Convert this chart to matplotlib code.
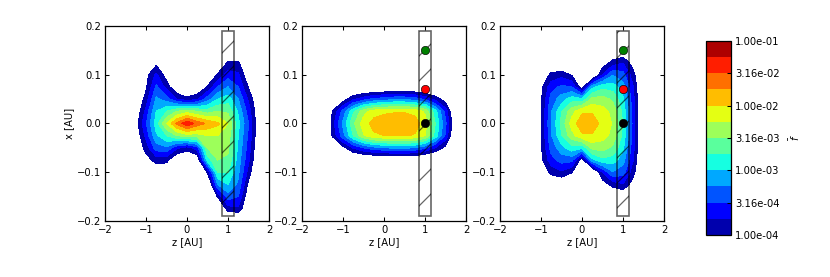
import numpy as np
import matplotlib
matplotlib.use("Agg")
import matplotlib.pyplot as plt
from matplotlib.patches import Rectangle

plt.rcParams['font.family'] = 'DejaVu Sans'
plt.rcParams['hatch.linewidth'] = 0.6

# grid nodes (AU)
z_nodes = [-1.5, -1.25, -1.0, -0.75, -0.5, -0.25, 0.0, 0.25, 0.5, 0.75, 1.0, 1.25, 1.5, 1.75]
x_nodes = [0.2, 0.175, 0.15, 0.125, 0.1, 0.075, 0.05, 0.025, 0.0,
           -0.025, -0.05, -0.075, -0.1, -0.125, -0.15, -0.175, -0.2]

# f, as colour-band index: log10(f) = -4 + 0.25 * band
band_left = [
    [-2, -2, -2, -2, -2, -2, -2, -2, -2, -2, -2, -2, -2, -2],
    [-2, -2, -2, -2, -2, -2, -2, -2, -2, -2, -2, -2, -2, -2],
    [-2, -2, -2, -2, -2, -2, -2, -2, -2, -1.5, -1, -1, -2, -2],
    [-2, -2, -1.5, -0.4, -0.8, -2, -2, -2, -1.5, -1, 0.1, 0.1, -1, -2],
    [-2, -2, -0.4, 1.2, -0.6, -2, -2, -1.5, -1.0, 0.1, 1.5, 1.2, -1, -2],
    [-2, -1.5, -0.2, 2.2, 0.6, -1.2, -1.5, -1.2, 0.1, 2.0, 3.0, 2.0, -0.1, -1.5],
    [-2, -1.2, 0.4, 3.2, 2.5, 1.0, 0.3, 0.8, 2.5, 4.0, 4.5, 3.0, 0.8, -1.2],
    [-2, -1.0, 1.3, 4.0, 5.0, 6.0, 6.5, 6.0, 5.5, 6.0, 5.8, 3.8, 1.5, -1.0],
    [-2, -0.6, 1.9, 4.5, 7.0, 9.2, 10.8, 9.6, 8.8, 8.2, 7.0, 4.3, 2.0, -1.0],
    [-2, -1.0, 1.3, 3.8, 5.0, 6.0, 6.5, 6.5, 7.0, 7.0, 6.5, 4.0, 1.8, -1.0],
    [-2, -1.2, 0.4, 2.5, 2.8, 1.2, 0.5, 1.5, 6.0, 6.5, 6.2, 3.8, 1.5, -1.2],
    [-2, -1.5, -0.5, 0.4, 0.3, -1.2, -1.5, -1.2, 4.5, 6.0, 5.8, 3.5, 1.2, -1.5],
    [-2, -2, -1.5, -1.0, -1.0, -2, -2, -1.5, 0.1, 5.0, 5.0, 3.2, 0.6, -2],
    [-2, -2, -2, -2, -2, -2, -2, -2, -2, 3.0, 4.0, 2.8, -0.3, -2],
    [-2, -2, -2, -2, -2, -2, -2, -2, -2, 0.1, 2.5, 2.0, -1, -2],
    [-2, -2, -2, -2, -2, -2, -2, -2, -2, -2, 0.5, 0.8, -1.5, -2],
    [-2, -2, -2, -2, -2, -2, -2, -2, -2, -2, -2, -2, -2, -2],
]

band_mid = [
    [-2, -2, -2, -2, -2, -2, -2, -2, -2, -2, -2, -2, -2, -2],
    [-2, -2, -2, -2, -2, -2, -2, -2, -2, -2, -2, -2, -2, -2],
    [-2, -2, -2, -2, -2, -2, -2, -2, -2, -2, -2, -2, -2, -2],
    [-2, -2, -2, -2, -2, -2, -2, -2, -2, -2, -2, -2, -2, -2],
    [-2, -2, -2, -2, -2, -2, -2, -2, -2, -2, -2, -2, -2, -2],
    [-2, -2, -2, -2, -2, -1.8, -1.8, -1.8, -1.8, -1.8, -2, -2, -2, -2],
    [-2, -2, -0.6, 0.8, 1.6, 2.2, 2.5, 2.8, 2.8, 2.5, 1.8, 0.6, -0.6, -2],
    [-2.5, 0.1, 2.4, 4.8, 6.6, 7.5, 7.8, 7.9, 7.9, 7.7, 6.8, 4.4, 1.6, -2],
    [-3, 0.6, 3.2, 5.8, 7.5, 8.4, 8.6, 8.7, 8.7, 8.5, 7.5, 5.0, 2.2, -1.4],
    [-2.5, 0.2, 2.6, 5.0, 6.9, 7.8, 8.0, 8.1, 8.1, 7.9, 7.0, 4.6, 1.8, -2],
    [-2, -1.8, -0.4, 1.1, 2.0, 2.6, 2.9, 3.2, 3.2, 2.9, 2.2, 0.9, -0.4, -2],
    [-2, -2, -2, -2, -1.8, -1.8, -1.8, -1.8, -1.8, -1.8, -2, -2, -2, -2],
    [-2, -2, -2, -2, -2, -2, -2, -2, -2, -2, -2, -2, -2, -2],
    [-2, -2, -2, -2, -2, -2, -2, -2, -2, -2, -2, -2, -2, -2],
    [-2, -2, -2, -2, -2, -2, -2, -2, -2, -2, -2, -2, -2, -2],
    [-2, -2, -2, -2, -2, -2, -2, -2, -2, -2, -2, -2, -2, -2],
    [-2, -2, -2, -2, -2, -2, -2, -2, -2, -2, -2, -2, -2, -2],
]

band_right = [
    [-2, -2, -2, -2, -2, -2, -2, -2, -2, -2, -2, -2, -2, -2],
    [-2, -2, -2, -2, -2, -2, -2, -2, -2, -2, -2, -2, -2, -2],
    [-2, -2, -2, -2, -2, -2, -2, -2, -2, -1.5, -1.2, -2, -2, -2],
    [-2, -2, -2, -1.5, -1.5, -2, -2, -2, -0.8, 0.4, 0.9, -0.6, -2, -2],
    [-2, -2, -1.2, 0.3, 0.6, -0.1, -2, -2, 1.0, 2.9, 2.4, 0.4, -2, -2],
    [-2, -2, -0.3, 1.6, 2.2, 2.0, -0.8, 3.6, 4.7, 4.5, 3.4, 1.0, -2, -2],
    [-2, -2, -0.2, 2.4, 3.5, 4.5, 4.2, 6.3, 6.4, 5.8, 4.2, 1.3, -2, -2],
    [-2, -2, -0.1, 2.9, 4.9, 6.6, 7.8, 7.9, 7.4, 6.7, 4.7, 1.5, -2, -2],
    [-2, -2, -0.1, 3.0, 5.3, 7.4, 8.7, 8.5, 7.7, 6.9, 4.9, 1.6, -2, -2],
    [-2, -2, -0.1, 2.9, 4.9, 6.6, 7.8, 7.9, 7.4, 6.7, 4.7, 1.5, -2, -2],
    [-2, -2, -0.2, 2.4, 3.6, 4.6, 4.2, 6.3, 6.4, 5.8, 4.2, 1.3, -2, -2],
    [-2, -2, -0.3, 1.6, 2.4, 2.3, -0.8, 3.6, 4.7, 4.5, 3.4, 1.0, -2, -2],
    [-2, -2, -1.2, 0.4, 0.8, 0.1, -2, -2, 1.0, 2.9, 2.4, 0.4, -2, -2],
    [-2, -2, -2, -1.5, -1.2, -2, -2, -2, -0.6, 0.4, 0.9, -0.6, -2, -2],
    [-2, -2, -2, -2, -2, -2, -2, -2, -2, -1.5, -1.2, -2, -2, -2],
    [-2, -2, -2, -2, -2, -2, -2, -2, -2, -2, -2, -2, -2, -2],
    [-2, -2, -2, -2, -2, -2, -2, -2, -2, -2, -2, -2, -2, -2],
]

# hatched slit and probe points
slit_z = (0.85, 1.15)
slit_x = (-0.19, 0.19)
probe_z = [1.0, 1.0, 1.0]
probe_x = [0.15, 0.07, 0.0]
probe_colors = ['green', 'red', 'black']

cbar_ticks = [-4.0, -3.5, -3.0, -2.5, -2.0, -1.5, -1.0]

fs = 4.8
fig = plt.figure(figsize=(830 / 150, 277 / 150), dpi=150)
lefts = [0.1265, 0.3639, 0.6024]
levels = np.arange(-4.0, -0.99, 0.25)

for i, (left, band) in enumerate(zip(lefts, [band_left, band_mid, band_right])):
    ax = fig.add_axes([left, 0.2022, 0.1976, 0.704])
    logf = -4.0 + 0.25 * np.array(band)
    cs = ax.contourf(z_nodes, x_nodes, logf, levels=levels, cmap='jet')
    ax.add_patch(Rectangle((slit_z[0], slit_x[0]), slit_z[1] - slit_z[0], slit_x[1] - slit_x[0],
                           fill=False, hatch='//', edgecolor='black', lw=0.8, alpha=0.6))
    if i > 0:
        for pz, px, pc in zip(probe_z, probe_x, probe_colors):
            ax.plot(pz, px, 'o', color=pc, ms=4, mec='black', mew=0.3)
    ax.set_xlim(-2, 2)
    ax.set_ylim(-0.2, 0.2)
    ax.set_xticks([-2, -1, 0, 1, 2])
    ax.set_yticks([-0.2, -0.1, 0.0, 0.1, 0.2])
    ax.tick_params(direction='in', top=True, right=True, length=2, width=0.5,
                   labelsize=fs, pad=2)
    for s in ax.spines.values():
        s.set_linewidth(0.6)
    ax.set_xlabel('z [AU]', fontsize=fs, labelpad=1)
    if i == 0:
        ax.set_ylabel('x [AU]', fontsize=fs, labelpad=1)

cax = fig.add_axes([0.8506, 0.152, 0.0301, 0.700])
cb = fig.colorbar(cs, cax=cax, ticks=cbar_ticks)
cb.set_ticklabels(['%.2e' % 10 ** t for t in cbar_ticks])
cb.ax.tick_params(direction='in', length=2, width=0.5, labelsize=fs, pad=2)
cb.outline.set_linewidth(0.6)
cb.set_label(r'$\bar{f}$', fontsize=fs, labelpad=4)

fig.savefig('out.png', dpi=150)
